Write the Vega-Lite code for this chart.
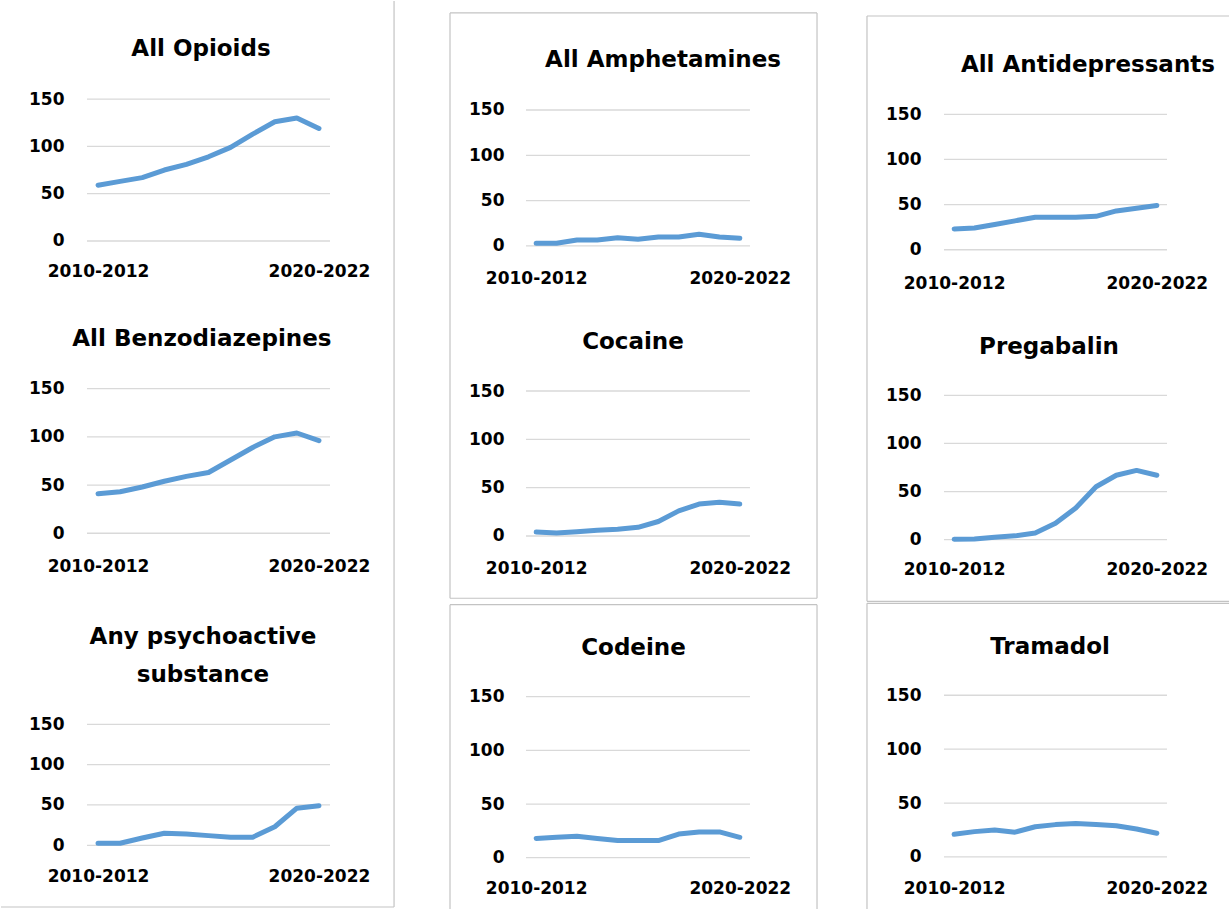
{
  "$schema": "https://vega.github.io/schema/vega-lite/v6.json",
  "padding": 0,
  "background": "white",
  "config": {
    "view": {"stroke": null},
    "axis": {"domain": false, "ticks": false, "tickSize": 0, "grid": false, "labelPadding": 0, "labelFont": "DejaVu Sans", "labelFontWeight": "bold", "labelFontSize": 17, "labelColor": "#000000", "labelFlush": false, "labelOverlap": false},
    "axisX": {"labelBaseline": "middle"},
    "axisY": {"labelBaseline": "middle", "labelAlign": "right"}
  },
  "datasets": {
    "rates": [
      {"panel": "All Opioids", "start": 2010, "value": 59}, {"panel": "All Opioids", "start": 2011, "value": 63}, {"panel": "All Opioids", "start": 2012, "value": 67}, {"panel": "All Opioids", "start": 2013, "value": 75}, {"panel": "All Opioids", "start": 2014, "value": 81}, {"panel": "All Opioids", "start": 2015, "value": 89}, {"panel": "All Opioids", "start": 2016, "value": 99}, {"panel": "All Opioids", "start": 2017, "value": 113}, {"panel": "All Opioids", "start": 2018, "value": 126}, {"panel": "All Opioids", "start": 2019, "value": 130}, {"panel": "All Opioids", "start": 2020, "value": 119},
      {"panel": "All Benzodiazepines", "start": 2010, "value": 41}, {"panel": "All Benzodiazepines", "start": 2011, "value": 43}, {"panel": "All Benzodiazepines", "start": 2012, "value": 48}, {"panel": "All Benzodiazepines", "start": 2013, "value": 54}, {"panel": "All Benzodiazepines", "start": 2014, "value": 59}, {"panel": "All Benzodiazepines", "start": 2015, "value": 63}, {"panel": "All Benzodiazepines", "start": 2016, "value": 76}, {"panel": "All Benzodiazepines", "start": 2017, "value": 89}, {"panel": "All Benzodiazepines", "start": 2018, "value": 100}, {"panel": "All Benzodiazepines", "start": 2019, "value": 104}, {"panel": "All Benzodiazepines", "start": 2020, "value": 96},
      {"panel": "Any psychoactive substance", "start": 2010, "value": 2.5}, {"panel": "Any psychoactive substance", "start": 2011, "value": 2.5}, {"panel": "Any psychoactive substance", "start": 2012, "value": 9}, {"panel": "Any psychoactive substance", "start": 2013, "value": 15}, {"panel": "Any psychoactive substance", "start": 2014, "value": 14}, {"panel": "Any psychoactive substance", "start": 2015, "value": 12}, {"panel": "Any psychoactive substance", "start": 2016, "value": 10}, {"panel": "Any psychoactive substance", "start": 2017, "value": 10}, {"panel": "Any psychoactive substance", "start": 2018, "value": 23}, {"panel": "Any psychoactive substance", "start": 2019, "value": 46}, {"panel": "Any psychoactive substance", "start": 2020, "value": 49},
      {"panel": "All Amphetamines", "start": 2010, "value": 3}, {"panel": "All Amphetamines", "start": 2011, "value": 3}, {"panel": "All Amphetamines", "start": 2012, "value": 6.5}, {"panel": "All Amphetamines", "start": 2013, "value": 6.5}, {"panel": "All Amphetamines", "start": 2014, "value": 9}, {"panel": "All Amphetamines", "start": 2015, "value": 7.5}, {"panel": "All Amphetamines", "start": 2016, "value": 10}, {"panel": "All Amphetamines", "start": 2017, "value": 10}, {"panel": "All Amphetamines", "start": 2018, "value": 13}, {"panel": "All Amphetamines", "start": 2019, "value": 10}, {"panel": "All Amphetamines", "start": 2020, "value": 8.5},
      {"panel": "Cocaine", "start": 2010, "value": 4}, {"panel": "Cocaine", "start": 2011, "value": 3}, {"panel": "Cocaine", "start": 2012, "value": 4.5}, {"panel": "Cocaine", "start": 2013, "value": 6}, {"panel": "Cocaine", "start": 2014, "value": 7}, {"panel": "Cocaine", "start": 2015, "value": 9}, {"panel": "Cocaine", "start": 2016, "value": 15}, {"panel": "Cocaine", "start": 2017, "value": 26}, {"panel": "Cocaine", "start": 2018, "value": 33}, {"panel": "Cocaine", "start": 2019, "value": 35}, {"panel": "Cocaine", "start": 2020, "value": 33},
      {"panel": "Codeine", "start": 2010, "value": 18}, {"panel": "Codeine", "start": 2011, "value": 19}, {"panel": "Codeine", "start": 2012, "value": 20}, {"panel": "Codeine", "start": 2013, "value": 18}, {"panel": "Codeine", "start": 2014, "value": 16}, {"panel": "Codeine", "start": 2015, "value": 16}, {"panel": "Codeine", "start": 2016, "value": 16}, {"panel": "Codeine", "start": 2017, "value": 22}, {"panel": "Codeine", "start": 2018, "value": 24}, {"panel": "Codeine", "start": 2019, "value": 24}, {"panel": "Codeine", "start": 2020, "value": 19},
      {"panel": "All Antidepressants", "start": 2010, "value": 23}, {"panel": "All Antidepressants", "start": 2011, "value": 24}, {"panel": "All Antidepressants", "start": 2012, "value": 28}, {"panel": "All Antidepressants", "start": 2013, "value": 32}, {"panel": "All Antidepressants", "start": 2014, "value": 36}, {"panel": "All Antidepressants", "start": 2015, "value": 36}, {"panel": "All Antidepressants", "start": 2016, "value": 36}, {"panel": "All Antidepressants", "start": 2017, "value": 37}, {"panel": "All Antidepressants", "start": 2018, "value": 43}, {"panel": "All Antidepressants", "start": 2019, "value": 46}, {"panel": "All Antidepressants", "start": 2020, "value": 49},
      {"panel": "Pregabalin", "start": 2010, "value": 0.5}, {"panel": "Pregabalin", "start": 2011, "value": 0.7}, {"panel": "Pregabalin", "start": 2012, "value": 2.5}, {"panel": "Pregabalin", "start": 2013, "value": 4}, {"panel": "Pregabalin", "start": 2014, "value": 7}, {"panel": "Pregabalin", "start": 2015, "value": 17}, {"panel": "Pregabalin", "start": 2016, "value": 33}, {"panel": "Pregabalin", "start": 2017, "value": 55}, {"panel": "Pregabalin", "start": 2018, "value": 67}, {"panel": "Pregabalin", "start": 2019, "value": 72}, {"panel": "Pregabalin", "start": 2020, "value": 67},
      {"panel": "Tramadol", "start": 2010, "value": 21}, {"panel": "Tramadol", "start": 2011, "value": 23.5}, {"panel": "Tramadol", "start": 2012, "value": 25}, {"panel": "Tramadol", "start": 2013, "value": 23}, {"panel": "Tramadol", "start": 2014, "value": 28}, {"panel": "Tramadol", "start": 2015, "value": 30}, {"panel": "Tramadol", "start": 2016, "value": 31}, {"panel": "Tramadol", "start": 2017, "value": 30}, {"panel": "Tramadol", "start": 2018, "value": 29}, {"panel": "Tramadol", "start": 2019, "value": 26}, {"panel": "Tramadol", "start": 2020, "value": 22}
    ]
  },
  "columns": 3,
  "spacing": 0,
  "bounds": "flush",
  "concat": [
    {
      "width": 421, "height": 301,
      "layer": [
        {"data": {"values": [{"g": 0}, {"g": 50}, {"g": 100}, {"g": 150}]}, "mark": {"type": "rule", "color": "#d9d9d9", "strokeWidth": 1.3},
         "encoding": {"x": {"datum": 2009.5, "type": "quantitative", "scale": {"domain": [2005.607, 2024.665], "nice": false, "zero": false}}, "x2": {"datum": 2020.5}, "y": {"field": "g", "type": "quantitative", "scale": {"domain": [-64.5, 253.7], "nice": false, "zero": false}}}},
        {"data": {"name": "rates"}, "transform": [{"filter": {"field": "panel", "equal": "All Opioids"}}], "mark": {"type": "line", "color": "#5B9BD5", "strokeWidth": 5, "strokeCap": "round", "strokeJoin": "round"},
         "encoding": {"x": {"field": "start", "type": "quantitative", "scale": {"domain": [2005.607, 2024.665], "nice": false, "zero": false}, "axis": {"title": null, "values": [2010, 2020], "labelExpr": "datum.value + '-' + (datum.value + 2)", "offset": -31}},
                      "y": {"field": "value", "type": "quantitative", "scale": {"domain": [-64.5, 253.7], "nice": false, "zero": false}, "axis": {"title": null, "values": [0, 50, 100, 150], "offset": -63}}}},
        {"data": {"values": [{}]}, "mark": {"type": "rule", "color": "#c3c3c3", "strokeWidth": 1.2},
         "encoding": {"x": {"datum": 2023.4, "type": "quantitative"}, "y": {"datum": -64.5, "type": "quantitative"}, "y2": {"datum": 253.7}}},
        {"data": {"values": [{}]}, "mark": {"type": "text", "text": "All Opioids", "font": "DejaVu Sans", "fontWeight": "bold", "fontSize": 23, "baseline": "alphabetic", "align": "center", "color": "#000000"},
         "encoding": {"x": {"datum": 2014.66, "type": "quantitative"}, "y": {"datum": 195.6, "type": "quantitative"}}}
      ]
    },
    {
      "width": 420, "height": 301,
      "layer": [
        {"data": {"values": [{"g": 0}, {"g": 50}, {"g": 100}, {"g": 150}]}, "mark": {"type": "rule", "color": "#d9d9d9", "strokeWidth": 1.3},
         "encoding": {"x": {"datum": 2009.5, "type": "quantitative", "scale": {"domain": [2004.392, 2025.02], "nice": false, "zero": false}}, "x2": {"datum": 2020.5}, "y": {"field": "g", "type": "quantitative", "scale": {"domain": [-61.8, 270.2], "nice": false, "zero": false}}}},
        {"data": {"name": "rates"}, "transform": [{"filter": {"field": "panel", "equal": "All Amphetamines"}}], "mark": {"type": "line", "color": "#5B9BD5", "strokeWidth": 5, "strokeCap": "round", "strokeJoin": "round"},
         "encoding": {"x": {"field": "start", "type": "quantitative", "scale": {"domain": [2004.392, 2025.02], "nice": false, "zero": false}, "axis": {"title": null, "values": [2010, 2020], "labelExpr": "datum.value + '-' + (datum.value + 2)", "offset": -24}},
                      "y": {"field": "value", "type": "quantitative", "scale": {"domain": [-61.8, 270.2], "nice": false, "zero": false}, "axis": {"title": null, "values": [0, 50, 100, 150], "offset": -82}}}},
        {"data": {"values": [{}]}, "mark": {"type": "rule", "color": "#c3c3c3", "strokeWidth": 1.2},
         "encoding": {"x": {"datum": 2005.767, "type": "quantitative"}, "y": {"datum": -61.8, "type": "quantitative"}, "y2": {"datum": 257.0}}},
        {"data": {"values": [{}]}, "mark": {"type": "rule", "color": "#c3c3c3", "strokeWidth": 1.2},
         "encoding": {"x": {"datum": 2023.793, "type": "quantitative"}, "y": {"datum": -61.8, "type": "quantitative"}, "y2": {"datum": 257.0}}},
        {"data": {"values": [{}]}, "mark": {"type": "rule", "color": "#c3c3c3", "strokeWidth": 1.2},
         "encoding": {"x": {"datum": 2005.767, "type": "quantitative"}, "x2": {"datum": 2023.793}, "y": {"datum": 257.0, "type": "quantitative"}}},
        {"data": {"values": [{}]}, "mark": {"type": "text", "text": "All Amphetamines", "font": "DejaVu Sans", "fontWeight": "bold", "fontSize": 23, "baseline": "alphabetic", "align": "center", "color": "#000000"},
         "encoding": {"x": {"datum": 2016.23, "type": "quantitative"}, "y": {"datum": 197.8, "type": "quantitative"}}}
      ]
    },
    {
      "width": 388, "height": 301,
      "layer": [
        {"data": {"values": [{"g": 0}, {"g": 50}, {"g": 100}, {"g": 150}]}, "mark": {"type": "rule", "color": "#d9d9d9", "strokeWidth": 1.3},
         "encoding": {"x": {"datum": 2009.5, "type": "quantitative", "scale": {"domain": [2004.468, 2023.609], "nice": false, "zero": false}}, "x2": {"datum": 2020.5}, "y": {"field": "g", "type": "quantitative", "scale": {"domain": [-57.9, 275.5], "nice": false, "zero": false}}}},
        {"data": {"name": "rates"}, "transform": [{"filter": {"field": "panel", "equal": "All Antidepressants"}}], "mark": {"type": "line", "color": "#5B9BD5", "strokeWidth": 5, "strokeCap": "round", "strokeJoin": "round"},
         "encoding": {"x": {"field": "start", "type": "quantitative", "scale": {"domain": [2004.468, 2023.609], "nice": false, "zero": false}, "axis": {"title": null, "values": [2010, 2020], "labelExpr": "datum.value + '-' + (datum.value + 2)", "offset": -19}},
                      "y": {"field": "value", "type": "quantitative", "scale": {"domain": [-57.9, 275.5], "nice": false, "zero": false}, "axis": {"title": null, "values": [0, 50, 100, 150], "offset": -79}}}},
        {"data": {"values": [{}]}, "mark": {"type": "rule", "color": "#c3c3c3", "strokeWidth": 1.2},
         "encoding": {"x": {"datum": 2005.701, "type": "quantitative"}, "y": {"datum": -57.9, "type": "quantitative"}, "y2": {"datum": 258.9}}},
        {"data": {"values": [{}]}, "mark": {"type": "rule", "color": "#c3c3c3", "strokeWidth": 1.2},
         "encoding": {"x": {"datum": 2005.701, "type": "quantitative"}, "x2": {"datum": 2023.609}, "y": {"datum": 258.9, "type": "quantitative"}}},
        {"data": {"values": [{}]}, "mark": {"type": "text", "text": "All Antidepressants", "font": "DejaVu Sans", "fontWeight": "bold", "fontSize": 23, "baseline": "alphabetic", "align": "center", "color": "#000000"},
         "encoding": {"x": {"datum": 2016.6, "type": "quantitative"}, "y": {"datum": 197.2, "type": "quantitative"}}}
      ]
    },
    {
      "width": 421, "height": 300,
      "layer": [
        {"data": {"values": [{"g": 0}, {"g": 50}, {"g": 100}, {"g": 150}]}, "mark": {"type": "rule", "color": "#d9d9d9", "strokeWidth": 1.3},
         "encoding": {"x": {"datum": 2009.5, "type": "quantitative", "scale": {"domain": [2005.607, 2024.665], "nice": false, "zero": false}}, "x2": {"datum": 2020.5}, "y": {"field": "g", "type": "quantitative", "scale": {"domain": [-71.3, 239.9], "nice": false, "zero": false}}}},
        {"data": {"name": "rates"}, "transform": [{"filter": {"field": "panel", "equal": "All Benzodiazepines"}}], "mark": {"type": "line", "color": "#5B9BD5", "strokeWidth": 5, "strokeCap": "round", "strokeJoin": "round"},
         "encoding": {"x": {"field": "start", "type": "quantitative", "scale": {"domain": [2005.607, 2024.665], "nice": false, "zero": false}, "axis": {"title": null, "values": [2010, 2020], "labelExpr": "datum.value + '-' + (datum.value + 2)", "offset": -36}},
                      "y": {"field": "value", "type": "quantitative", "scale": {"domain": [-71.3, 239.9], "nice": false, "zero": false}, "axis": {"title": null, "values": [0, 50, 100, 150], "offset": -63}}}},
        {"data": {"values": [{}]}, "mark": {"type": "rule", "color": "#c3c3c3", "strokeWidth": 1.2},
         "encoding": {"x": {"datum": 2023.4, "type": "quantitative"}, "y": {"datum": -71.3, "type": "quantitative"}, "y2": {"datum": 239.9}}},
        {"data": {"values": [{}]}, "mark": {"type": "text", "text": "All Benzodiazepines", "font": "DejaVu Sans", "fontWeight": "bold", "fontSize": 23, "baseline": "alphabetic", "align": "center", "color": "#000000"},
         "encoding": {"x": {"datum": 2014.7, "type": "quantitative"}, "y": {"datum": 194.3, "type": "quantitative"}}}
      ]
    },
    {
      "width": 420, "height": 300,
      "layer": [
        {"data": {"values": [{"g": 0}, {"g": 50}, {"g": 100}, {"g": 150}]}, "mark": {"type": "rule", "color": "#d9d9d9", "strokeWidth": 1.3},
         "encoding": {"x": {"datum": 2009.5, "type": "quantitative", "scale": {"domain": [2004.392, 2025.02], "nice": false, "zero": false}}, "x2": {"datum": 2020.5}, "y": {"field": "g", "type": "quantitative", "scale": {"domain": [-68.3, 242.1], "nice": false, "zero": false}}}},
        {"data": {"name": "rates"}, "transform": [{"filter": {"field": "panel", "equal": "Cocaine"}}], "mark": {"type": "line", "color": "#5B9BD5", "strokeWidth": 5, "strokeCap": "round", "strokeJoin": "round"},
         "encoding": {"x": {"field": "start", "type": "quantitative", "scale": {"domain": [2004.392, 2025.02], "nice": false, "zero": false}, "axis": {"title": null, "values": [2010, 2020], "labelExpr": "datum.value + '-' + (datum.value + 2)", "offset": -34}},
                      "y": {"field": "value", "type": "quantitative", "scale": {"domain": [-68.3, 242.1], "nice": false, "zero": false}, "axis": {"title": null, "values": [0, 50, 100, 150], "offset": -82}}}},
        {"data": {"values": [{}]}, "mark": {"type": "rule", "color": "#c3c3c3", "strokeWidth": 1.2},
         "encoding": {"x": {"datum": 2005.767, "type": "quantitative"}, "y": {"datum": -64.4, "type": "quantitative"}, "y2": {"datum": 242.1}}},
        {"data": {"values": [{}]}, "mark": {"type": "rule", "color": "#c3c3c3", "strokeWidth": 1.2},
         "encoding": {"x": {"datum": 2023.793, "type": "quantitative"}, "y": {"datum": -64.4, "type": "quantitative"}, "y2": {"datum": 242.1}}},
        {"data": {"values": [{}]}, "mark": {"type": "rule", "color": "#c3c3c3", "strokeWidth": 1.2},
         "encoding": {"x": {"datum": 2005.767, "type": "quantitative"}, "x2": {"datum": 2023.793}, "y": {"datum": -64.4, "type": "quantitative"}}},
        {"data": {"values": [{}]}, "mark": {"type": "text", "text": "Cocaine", "font": "DejaVu Sans", "fontWeight": "bold", "fontSize": 23, "baseline": "alphabetic", "align": "center", "color": "#000000"},
         "encoding": {"x": {"datum": 2014.755, "type": "quantitative"}, "y": {"datum": 193.8, "type": "quantitative"}}}
      ]
    },
    {
      "width": 388, "height": 300,
      "layer": [
        {"data": {"values": [{"g": 0}, {"g": 50}, {"g": 100}, {"g": 150}]}, "mark": {"type": "rule", "color": "#d9d9d9", "strokeWidth": 1.3},
         "encoding": {"x": {"datum": 2009.5, "type": "quantitative", "scale": {"domain": [2004.468, 2023.609], "nice": false, "zero": false}}, "x2": {"datum": 2020.5}, "y": {"field": "g", "type": "quantitative", "scale": {"domain": [-64.7, 246.9], "nice": false, "zero": false}}}},
        {"data": {"name": "rates"}, "transform": [{"filter": {"field": "panel", "equal": "Pregabalin"}}], "mark": {"type": "line", "color": "#5B9BD5", "strokeWidth": 5, "strokeCap": "round", "strokeJoin": "round"},
         "encoding": {"x": {"field": "start", "type": "quantitative", "scale": {"domain": [2004.468, 2023.609], "nice": false, "zero": false}, "axis": {"title": null, "values": [2010, 2020], "labelExpr": "datum.value + '-' + (datum.value + 2)", "offset": -33}},
                      "y": {"field": "value", "type": "quantitative", "scale": {"domain": [-64.7, 246.9], "nice": false, "zero": false}, "axis": {"title": null, "values": [0, 50, 100, 150], "offset": -79}}}},
        {"data": {"values": [{}]}, "mark": {"type": "rule", "color": "#c3c3c3", "strokeWidth": 1.2},
         "encoding": {"x": {"datum": 2005.701, "type": "quantitative"}, "y": {"datum": -64.0, "type": "quantitative"}, "y2": {"datum": 246.9}}},
        {"data": {"values": [{}]}, "mark": {"type": "rule", "color": "#c3c3c3", "strokeWidth": 1.2},
         "encoding": {"x": {"datum": 2005.701, "type": "quantitative"}, "x2": {"datum": 2023.609}, "y": {"datum": -64.0, "type": "quantitative"}}},
        {"data": {"values": [{}]}, "mark": {"type": "text", "text": "Pregabalin", "font": "DejaVu Sans", "fontWeight": "bold", "fontSize": 23, "baseline": "alphabetic", "align": "center", "color": "#000000"},
         "encoding": {"x": {"datum": 2014.68, "type": "quantitative"}, "y": {"datum": 193.2, "type": "quantitative"}}}
      ]
    },
    {
      "width": 421, "height": 308,
      "layer": [
        {"data": {"values": [{"g": 0}, {"g": 50}, {"g": 100}, {"g": 150}]}, "mark": {"type": "rule", "color": "#d9d9d9", "strokeWidth": 1.3},
         "encoding": {"x": {"datum": 2009.5, "type": "quantitative", "scale": {"domain": [2005.607, 2024.665], "nice": false, "zero": false}}, "x2": {"datum": 2020.5}, "y": {"field": "g", "type": "quantitative", "scale": {"domain": [-80.2, 301.6], "nice": false, "zero": false}}}},
        {"data": {"name": "rates"}, "transform": [{"filter": {"field": "panel", "equal": "Any psychoactive substance"}}], "mark": {"type": "line", "color": "#5B9BD5", "strokeWidth": 5, "strokeCap": "round", "strokeJoin": "round"},
         "encoding": {"x": {"field": "start", "type": "quantitative", "scale": {"domain": [2005.607, 2024.665], "nice": false, "zero": false}, "axis": {"title": null, "values": [2010, 2020], "labelExpr": "datum.value + '-' + (datum.value + 2)", "offset": -34}},
                      "y": {"field": "value", "type": "quantitative", "scale": {"domain": [-80.2, 301.6], "nice": false, "zero": false}, "axis": {"title": null, "values": [0, 50, 100, 150], "offset": -63}}}},
        {"data": {"values": [{}]}, "mark": {"type": "rule", "color": "#c3c3c3", "strokeWidth": 1.2},
         "encoding": {"x": {"datum": 2023.4, "type": "quantitative"}, "y": {"datum": -76.5, "type": "quantitative"}, "y2": {"datum": 301.6}}},
        {"data": {"values": [{}]}, "mark": {"type": "rule", "color": "#c3c3c3", "strokeWidth": 1.2},
         "encoding": {"x": {"datum": 2005.607, "type": "quantitative"}, "x2": {"datum": 2023.4}, "y": {"datum": -76.5, "type": "quantitative"}}},
        {"data": {"values": [{}]}, "mark": {"type": "text", "text": ["Any psychoactive", "substance"], "lineHeight": 38, "font": "DejaVu Sans", "fontWeight": "bold", "fontSize": 23, "baseline": "alphabetic", "align": "center", "color": "#000000"},
         "encoding": {"x": {"datum": 2014.75, "type": "quantitative"}, "y": {"datum": 249.2, "type": "quantitative"}}}
      ]
    },
    {
      "width": 420, "height": 308,
      "layer": [
        {"data": {"values": [{"g": 0}, {"g": 50}, {"g": 100}, {"g": 150}]}, "mark": {"type": "rule", "color": "#d9d9d9", "strokeWidth": 1.3},
         "encoding": {"x": {"datum": 2009.5, "type": "quantitative", "scale": {"domain": [2004.392, 2025.02], "nice": false, "zero": false}}, "x2": {"datum": 2020.5}, "y": {"field": "g", "type": "quantitative", "scale": {"domain": [-48.7, 238.2], "nice": false, "zero": false}}}},
        {"data": {"name": "rates"}, "transform": [{"filter": {"field": "panel", "equal": "Codeine"}}], "mark": {"type": "line", "color": "#5B9BD5", "strokeWidth": 5, "strokeCap": "round", "strokeJoin": "round"},
         "encoding": {"x": {"field": "start", "type": "quantitative", "scale": {"domain": [2004.392, 2025.02], "nice": false, "zero": false}, "axis": {"title": null, "values": [2010, 2020], "labelExpr": "datum.value + '-' + (datum.value + 2)", "offset": -22}},
                      "y": {"field": "value", "type": "quantitative", "scale": {"domain": [-48.7, 238.2], "nice": false, "zero": false}, "axis": {"title": null, "values": [0, 50, 100, 150], "offset": -82}}}},
        {"data": {"values": [{}]}, "mark": {"type": "rule", "color": "#c3c3c3", "strokeWidth": 1.2},
         "encoding": {"x": {"datum": 2005.767, "type": "quantitative"}, "y": {"datum": -48.7, "type": "quantitative"}, "y2": {"datum": 235.7}}},
        {"data": {"values": [{}]}, "mark": {"type": "rule", "color": "#c3c3c3", "strokeWidth": 1.2},
         "encoding": {"x": {"datum": 2023.793, "type": "quantitative"}, "y": {"datum": -48.7, "type": "quantitative"}, "y2": {"datum": 235.7}}},
        {"data": {"values": [{}]}, "mark": {"type": "rule", "color": "#c3c3c3", "strokeWidth": 1.2},
         "encoding": {"x": {"datum": 2005.767, "type": "quantitative"}, "x2": {"datum": 2023.793}, "y": {"datum": 235.7, "type": "quantitative"}}},
        {"data": {"values": [{}]}, "mark": {"type": "text", "text": "Codeine", "font": "DejaVu Sans", "fontWeight": "bold", "fontSize": 23, "baseline": "alphabetic", "align": "center", "color": "#000000"},
         "encoding": {"x": {"datum": 2014.78, "type": "quantitative"}, "y": {"datum": 188.6, "type": "quantitative"}}}
      ]
    },
    {
      "width": 388, "height": 308,
      "layer": [
        {"data": {"values": [{"g": 0}, {"g": 50}, {"g": 100}, {"g": 150}]}, "mark": {"type": "rule", "color": "#d9d9d9", "strokeWidth": 1.3},
         "encoding": {"x": {"datum": 2009.5, "type": "quantitative", "scale": {"domain": [2004.468, 2023.609], "nice": false, "zero": false}}, "x2": {"datum": 2020.5}, "y": {"field": "g", "type": "quantitative", "scale": {"domain": [-49.2, 236.5], "nice": false, "zero": false}}}},
        {"data": {"name": "rates"}, "transform": [{"filter": {"field": "panel", "equal": "Tramadol"}}], "mark": {"type": "line", "color": "#5B9BD5", "strokeWidth": 5, "strokeCap": "round", "strokeJoin": "round"},
         "encoding": {"x": {"field": "start", "type": "quantitative", "scale": {"domain": [2004.468, 2023.609], "nice": false, "zero": false}, "axis": {"title": null, "values": [2010, 2020], "labelExpr": "datum.value + '-' + (datum.value + 2)", "offset": -22}},
                      "y": {"field": "value", "type": "quantitative", "scale": {"domain": [-49.2, 236.5], "nice": false, "zero": false}, "axis": {"title": null, "values": [0, 50, 100, 150], "offset": -79}}}},
        {"data": {"values": [{}]}, "mark": {"type": "rule", "color": "#c3c3c3", "strokeWidth": 1.2},
         "encoding": {"x": {"datum": 2005.701, "type": "quantitative"}, "y": {"datum": -49.2, "type": "quantitative"}, "y2": {"datum": 235.3}}},
        {"data": {"values": [{}]}, "mark": {"type": "rule", "color": "#c3c3c3", "strokeWidth": 1.2},
         "encoding": {"x": {"datum": 2005.701, "type": "quantitative"}, "x2": {"datum": 2023.609}, "y": {"datum": 235.3, "type": "quantitative"}}},
        {"data": {"values": [{}]}, "mark": {"type": "text", "text": "Tramadol", "font": "DejaVu Sans", "fontWeight": "bold", "fontSize": 23, "baseline": "alphabetic", "align": "center", "color": "#000000"},
         "encoding": {"x": {"datum": 2014.73, "type": "quantitative"}, "y": {"datum": 188.0, "type": "quantitative"}}}
      ]
    }
  ]
}
